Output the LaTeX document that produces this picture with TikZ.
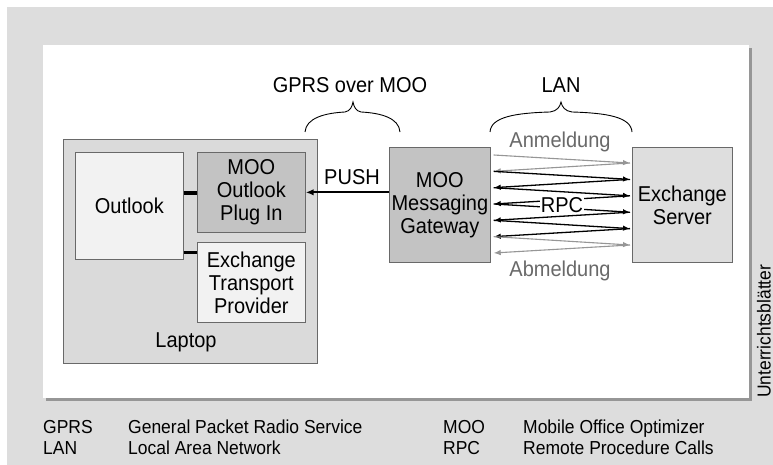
\documentclass[tikz,border=0pt]{standalone}
\usepackage{fontspec}
\setmainfont{Liberation Sans}[FakeStretch=0.93]
\usetikzlibrary{arrows.meta,calc}
\definecolor{bggray}{RGB}{221,221,221}
\definecolor{shadowgray}{RGB}{150,150,150}
\definecolor{boxline}{RGB}{105,105,105}
\definecolor{lapfill}{RGB}{218,218,218}
\definecolor{lightfill}{RGB}{242,242,242}
\definecolor{midfill}{RGB}{195,195,195}
\definecolor{srvfill}{RGB}{222,222,222}
\definecolor{arrgray}{RGB}{150,150,150}
\definecolor{txtgray}{RGB}{105,105,105}
\newcommand{\mybig}{\fontsize{21.5}{23}\selectfont}
\newcommand{\mysmall}{\fontsize{18.8}{21}\selectfont}
\begin{document}
\begin{tikzpicture}[x=1pt,y=-1pt,
  box/.style={draw=boxline, line width=0.7pt, inner sep=0pt, anchor=north west, align=center, font=\mybig},
  lbl/.style={font=\mybig, inner sep=0pt},
  leg/.style={font=\mysmall, inner sep=0pt, anchor=base west},
  brc/.style={line width=0.9pt, black},
  thickcon/.style={line width=3pt, black},
  tip/.style={-{Latex[length=7pt,width=5.5pt]}},
  blackarr/.style={tip, line width=1.3pt, black},
  grayarr/.style={tip, line width=1.1pt, arrgray}]
\useasboundingbox (0,0) rectangle (773,465);
\fill[white] (0,0) rectangle (773,465);
\fill[bggray] (7,7) rectangle (773,465);
% white panel with shadow
\fill[shadowgray] (46,48) rectangle (752,401);
\fill[white] (43,45) rectangle (749,398);

% boxes
\node[box, fill=lapfill, minimum width=254pt, minimum height=224pt] (laptop) at (63,139) {};
\node[lbl, anchor=base] (laptoplbl) at (186,347) {Laptop};
\node[box, fill=lightfill, minimum width=108pt, minimum height=107pt] (outlook) at (75,152) {Outlook};
\node[box, fill=midfill, minimum width=108pt, minimum height=80pt] (plugin) at (197,152) {MOO\\Outlook\\Plug In};
\node[box, fill=lightfill, minimum width=108pt, minimum height=80pt] (etp) at (197,242) {Exchange\\Transport\\Provider};
\node[box, fill=midfill, minimum width=101pt, minimum height=115pt] (gw) at (389,147) {MOO\\Messaging\\Gateway};
\node[box, fill=srvfill, minimum width=100pt, minimum height=115pt] (srv) at (632,147) {Exchange\\Server};

% connectors inside laptop
\coordinate (c1) at (0,193);
\coordinate (c2) at (0,252);
\draw[thickcon] (outlook.east |- c1) -- (plugin.west |- c1);
\draw[thickcon] (outlook.east |- c2) -- (etp.west |- c2);

% push
\draw[line width=2pt, -{Latex[length=8pt,width=6.5pt]}] (gw.west |- plugin.east) -- (plugin.east);
\node[lbl, anchor=base] (push) at (352,185) {PUSH};

% braces and titles
\node[lbl, anchor=base] (gprs) at (350,93) {GPRS over MOO};
\node[lbl, anchor=base] (lan) at (561,93) {LAN};
\draw[brc] (305,132) .. controls (306,118) and (325,113) .. (345,112)
  .. controls (350,111) and (352,107) .. (353,102)
  .. controls (354,107) and (356,111) .. (361,112)
  .. controls (381,113) and (399,118) .. (400,132);
\draw[brc] (490,132) .. controls (491,117) and (515,113) .. (550,112)
  .. controls (557,111) and (560,107) .. (561,102)
  .. controls (562,107) and (565,111) .. (572,112)
  .. controls (607,113) and (631,117) .. (632,132);

% zigzag coordinates
\foreach \k in {0,...,6} {
  \coordinate (L\k) at ($(gw.east |- 0,{155+16.33*\k})+(3,0)$);
}
\foreach \k in {0,...,5} {
  \coordinate (R\k) at ($(srv.west |- 0,{163+16.4*\k})+(-2,0)$);
}
\draw[grayarr] (L0) -- (R0);
\draw[grayarr] (R0) -- (L1);
\draw[blackarr] (L1) -- (R1);
\draw[blackarr] (R1) -- (L2);
\draw[blackarr] (L2) -- (R2);
\draw[blackarr] (R2) -- (L3);
\draw[blackarr] (L3) -- (R3);
\draw[blackarr] (R3) -- (L4);
\draw[blackarr] (L4) -- (R4);
\draw[blackarr] (R4) -- (L5);
\draw[grayarr] (L5) -- (R5);
\draw[grayarr] (R5) -- (L6);
\node[lbl, fill=white, inner sep=0.5pt] (rpc) at (562,205) {RPC};
\node[lbl, text=txtgray] (anm) at (560,142) {Anmeldung};
\node[lbl, text=txtgray] (abm) at (560,271) {Abmeldung};

% vertical text
\node[font=\mysmall, inner sep=0pt, rotate=90, anchor=base west] (vert) at (770.5,398) {Unterrichtsblätter};

% legend
\node[leg] (g1) at (43,433) {GPRS};
\node[leg] (g2) at (128,433) {General Packet Radio Service};
\node[leg] (l1) at (43,454) {LAN};
\node[leg] (l2) at (128,454) {Local Area Network};
\node[leg] (m1) at (443,433) {MOO};
\node[leg] (m2) at (523,433) {Mobile Office Optimizer};
\node[leg] (r1) at (443,454) {RPC};
\node[leg] (r2) at (523,454) {Remote Procedure Calls};
\end{tikzpicture}
\end{document}
